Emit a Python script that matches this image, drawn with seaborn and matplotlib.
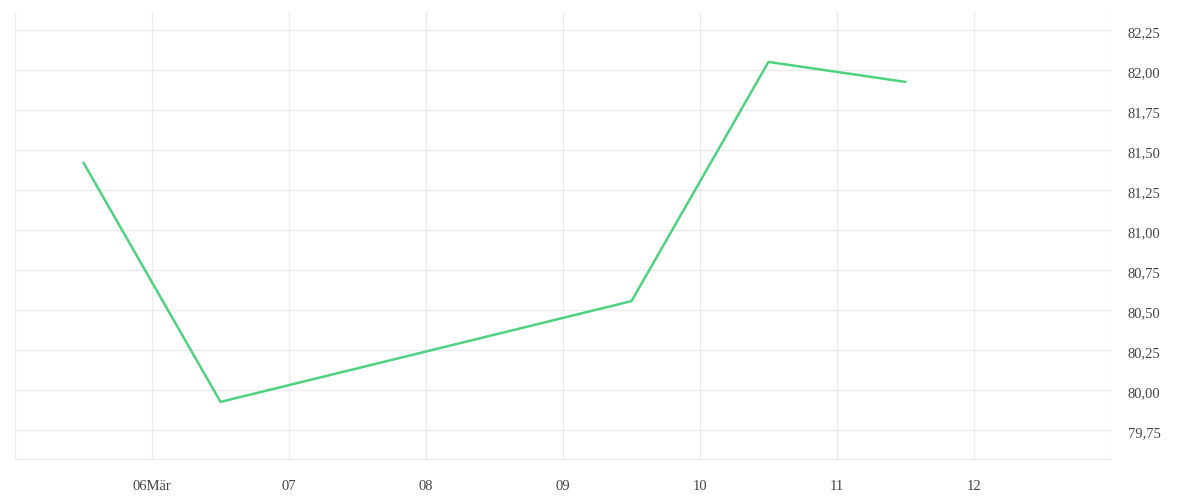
import pandas as pd
import numpy as np
import matplotlib
matplotlib.use("Agg")
import matplotlib.pyplot as plt
import matplotlib.dates as mdates
import matplotlib.transforms as mtransforms
import seaborn as sns

# ---------- data ----------
dates = ["2020-03-05 12:00", "2020-03-06 12:00", "2020-03-09 12:00",
         "2020-03-10 12:00", "2020-03-11 12:00"]
values = [81.42, 79.925, 80.555, 82.05, 81.925]

tick_days = ["2020-03-05", "2020-03-06", "2020-03-07", "2020-03-08", "2020-03-09",
             "2020-03-10", "2020-03-11", "2020-03-12", "2020-03-13"]
tick_labels = ["", "06Mär", "07", "08", "09", "10", "11", "12", ""]
y_ticks = [79.75, 80.00, 80.25, 80.50, 80.75, 81.00, 81.25, 81.50, 81.75, 82.00, 82.25]

df = pd.DataFrame({"date": pd.to_datetime(dates), "value": values})

sns.set_style("white")
plt.rcParams["font.family"] = ["Liberation Serif", "DejaVu Serif"]

fig = plt.figure(figsize=(12, 5), dpi=100)
ax = fig.add_axes([15 / 1200, 41.3 / 500, 1096 / 1200, 446.7 / 500])

sns.lineplot(data=df, x="date", y="value", color="#4fd27f", linewidth=1.8, ax=ax)

# ---------- axes ----------
xt = pd.to_datetime(tick_days)
ax.set_xlim(xt[0], xt[-1])
ax.set_xticks(mdates.date2num(xt))
ax.set_xticklabels(tick_labels)
ax.set_ylim(79.57, 82.362)
ax.set_yticks(y_ticks)
ax.set_yticklabels([f"{v:.2f}".replace(".", ",") for v in y_ticks])
ax.yaxis.tick_right()

ax.grid(True, color="#ececec", linewidth=1)
for s in ["top", "left", "right"]:
    ax.spines[s].set_visible(False)
ax.spines["bottom"].set_color("#ececec")
ax.spines["bottom"].set_linewidth(1)

ax.tick_params(axis="x", length=6, width=1, color="#ececec", pad=9,
               labelsize=10.5, labelcolor="#444444")
ax.tick_params(axis="y", length=0, pad=12, labelsize=10.5, labelcolor="#444444")

# nudge y labels a little lower, like the reference
shift = mtransforms.ScaledTranslation(0, -2 / 100, fig.dpi_scale_trans)
for lbl in ax.get_yticklabels():
    lbl.set_transform(lbl.get_transform() + shift)

ax.set_xlabel("")
ax.set_ylabel("")

fig.savefig("out.png", dpi=100)
